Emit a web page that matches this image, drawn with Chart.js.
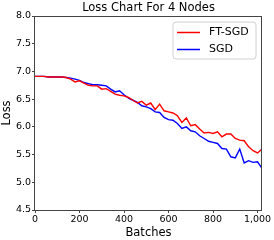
<!DOCTYPE html>
<html>
<head>
<meta charset="utf-8">
<script src="https://cdn.jsdelivr.net/npm/chart.js@4.4.0/dist/chart.umd.min.js"></script>
<style>
  html, body { margin: 0; padding: 0; background: #fff; }
  #wrap { width: 274px; height: 240px; }
</style>
</head>
<body>
<div id="wrap"><canvas id="lossChart" width="274" height="240"></canvas></div>
<script>
// loss per batch, sampled every 20 batches
var batches = [0, 20, 40, 60, 80, 100, 120, 140, 160, 180, 200, 220, 240, 260, 280, 300, 320, 340, 360, 380,
    400, 420, 440, 460, 480, 500, 520, 540, 560, 580, 600, 620, 640, 660, 680, 700, 720, 740, 760, 780,
    800, 820, 840, 860, 880, 900, 920, 940, 960, 980, 1000, 1020];
var ftSgdLoss = [6.91, 6.91, 6.91, 6.90, 6.90, 6.90, 6.90, 6.89, 6.86, 6.81, 6.83, 6.79, 6.75, 6.74, 6.74, 6.68, 6.69, 6.64, 6.59, 6.57,
    6.56, 6.53, 6.48, 6.43, 6.46, 6.39, 6.43, 6.31, 6.41, 6.29, 6.27, 6.25, 6.20, 6.08, 6.16, 6.02, 6.04, 5.96, 5.89, 5.90,
    5.88, 5.91, 5.82, 5.87, 5.87, 5.79, 5.76, 5.75, 5.64, 5.57, 5.53, 5.60];
var sgdLoss = [6.91, 6.91, 6.91, 6.90, 6.90, 6.90, 6.90, 6.89, 6.88, 6.86, 6.84, 6.80, 6.78, 6.76, 6.76, 6.75, 6.74, 6.68, 6.63, 6.65,
    6.58, 6.52, 6.48, 6.44, 6.38, 6.36, 6.33, 6.27, 6.26, 6.17, 6.13, 6.12, 6.06, 5.97, 6.00, 5.93, 5.91, 5.84, 5.79, 5.74,
    5.72, 5.70, 5.61, 5.60, 5.46, 5.44, 5.60, 5.35, 5.39, 5.36, 5.37, 5.25];
var seriesNames = ['FT-SGD', 'SGD'];
var xTicks = [0, 200, 400, 600, 800, 1000];
var yTicks = [4.5, 5.0, 5.5, 6.0, 6.5, 7.0, 7.5, 8.0];
var chartTitle = 'Loss Chart For 4 Nodes';

var FONT = 'DejaVu Sans';
var colors = ['#ff0000', '#0000ff'];

function toPoints(ys) {
    return batches.map(function(b, i) { return { x: b, y: ys[i] }; });
}

// matplotlib-like frame, title over the plot area, legend box upper right
var framePlugin = {
    id: 'frameAndLegend',
    afterDatasetsDraw: function(chart) {
        var ctx = chart.ctx, a = chart.chartArea;
        ctx.save();
        ctx.strokeStyle = '#444';
        ctx.lineWidth = 1;
        ctx.strokeRect(Math.round(a.left) - 0.5, Math.round(a.top) + 0.5, Math.round(a.right - a.left), Math.round(a.bottom - a.top));

        ctx.fillStyle = '#000';
        ctx.font = '11.5px "' + FONT + '"';
        ctx.textAlign = 'center';
        ctx.textBaseline = 'middle';
        ctx.fillText(chartTitle, (a.left + a.right) / 2, 8.5);

        var bx = 173, by = 22, bw = 83, bh = 37, r = 3;
        ctx.beginPath();
        ctx.moveTo(bx + r, by);
        ctx.arcTo(bx + bw, by, bx + bw, by + bh, r);
        ctx.arcTo(bx + bw, by + bh, bx, by + bh, r);
        ctx.arcTo(bx, by + bh, bx, by, r);
        ctx.arcTo(bx, by, bx + bw, by, r);
        ctx.closePath();
        ctx.fillStyle = 'rgba(255,255,255,0.8)';
        ctx.fill();
        ctx.strokeStyle = '#d0d0d0';
        ctx.stroke();

        ctx.font = '11px "' + FONT + '"';
        ctx.textAlign = 'left';
        ctx.fillStyle = '#000';
        var rows = [32.5, 49.5];
        seriesNames.forEach(function(name, i) {
            ctx.beginPath();
            ctx.strokeStyle = colors[i];
            ctx.lineWidth = 1.5;
            ctx.moveTo(177, rows[i]);
            ctx.lineTo(200, rows[i]);
            ctx.stroke();
            ctx.fillText(name, 209, rows[i]);
        });
        ctx.restore();
    }
};

new Chart(document.getElementById('lossChart'), {
    type: 'line',
    data: {
        datasets: [
            { label: seriesNames[0], data: toPoints(ftSgdLoss), borderColor: colors[0], borderWidth: 1.4, pointRadius: 0, tension: 0, fill: false },
            { label: seriesNames[1], data: toPoints(sgdLoss), borderColor: colors[1], borderWidth: 1.4, pointRadius: 0, tension: 0, fill: false }
        ]
    },
    options: {
        responsive: false,
        animation: false,
        layout: { padding: { left: 0, right: 12, top: 16, bottom: 0 } },
        plugins: {
            legend: { display: false },
            tooltip: { enabled: false },
            title: { display: false }
        },
        scales: {
            x: {
                type: 'linear',
                min: 0,
                max: 1020,
                afterBuildTicks: function(s) { s.ticks = xTicks.map(function(v) { return { value: v }; }); },
                afterFit: function(s) { s.height = 30; },
                ticks: { color: '#000', font: { family: FONT, size: 9.5 }, padding: 1, maxRotation: 0 },
                grid: { drawOnChartArea: false, tickLength: 3, color: '#444' },
                border: { display: false },
                title: { display: true, text: 'Batches', color: '#000', font: { family: FONT, size: 11.5 }, padding: { top: 0, bottom: 0 } }
            },
            y: {
                min: 4.5,
                max: 8.0,
                afterBuildTicks: function(s) { s.ticks = yTicks.map(function(v) { return { value: v }; }); },
                afterFit: function(s) { s.width = 35; },
                ticks: { color: '#000', font: { family: FONT, size: 9.5 }, padding: 1, callback: function(v) { return v.toFixed(1); } },
                grid: { drawOnChartArea: false, tickLength: 3, color: '#444' },
                border: { display: false },
                title: { display: true, text: 'Loss', color: '#000', font: { family: FONT, size: 11.5 }, padding: { top: 0, bottom: 0 } }
            }
        }
    },
    plugins: [framePlugin]
});
</script>
</body>
</html>
